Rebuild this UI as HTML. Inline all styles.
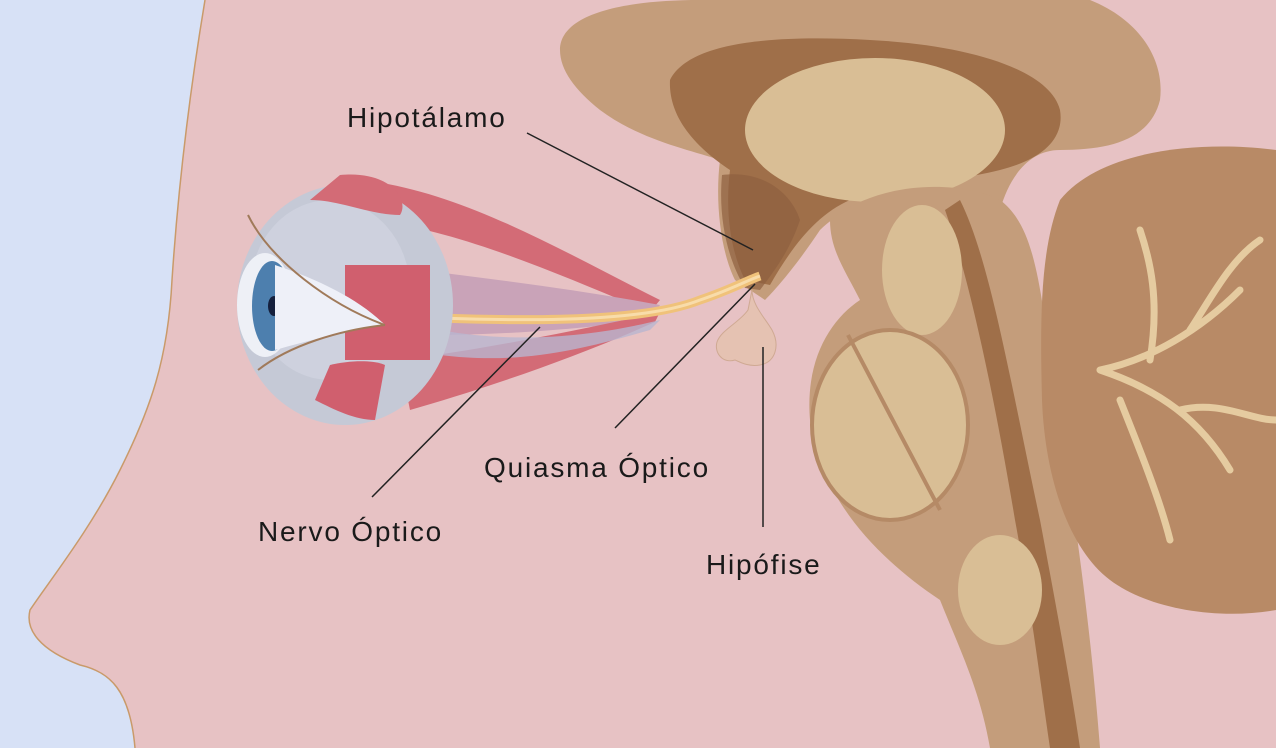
<!DOCTYPE html>
<html><head><meta charset="utf-8"><style>
html,body{margin:0;padding:0;width:1276px;height:748px;overflow:hidden;background:#e7c2c4}
svg{display:block}
text{font-family:"Liberation Sans",sans-serif;font-size:28px;letter-spacing:1.8px;fill:#1a1a1a}
</style></head><body>
<svg width="1276" height="748" viewBox="0 0 1276 748">
<rect width="1276" height="748" fill="#e7c2c4"/>
<path d="M0 0 H205 C190 90 178 190 172 280 C168 360 150 410 120 470 C90 530 50 580 30 610 C25 630 40 650 80 665 C110 672 130 690 135 748 H0 Z" fill="#d7e1f6"/>
<path d="M205 0 C190 90 178 190 172 280 C168 360 150 410 120 470 C90 530 50 580 30 610 C25 630 40 650 80 665 C110 672 130 690 135 748" fill="none" stroke="#c99a6a" stroke-width="1.5"/>
<path d="M560 50 C560 15 620 0 700 0 H1090 C1140 20 1165 60 1160 100 C1150 140 1110 150 1060 150 C1030 150 1010 175 1000 210 L960 210 C900 190 850 200 820 230 C800 260 780 285 765 300 L735 280 C720 250 715 200 720 160 C690 150 640 140 600 110 C575 90 560 70 560 50 Z" fill="#c49d7b"/>
<path d="M670 80 C690 40 780 35 870 40 C970 45 1050 70 1060 110 C1065 140 1040 160 1000 170 C960 180 900 185 850 200 C815 215 790 250 770 285 L745 280 C730 250 725 210 730 170 C700 150 668 120 670 80 Z" fill="#9f6f49"/>
<ellipse cx="875" cy="130" rx="130" ry="72" fill="#d9be95"/>
<path d="M722 175 C760 170 790 190 800 220 C790 250 775 270 760 290 L745 288 C728 260 718 220 722 175 Z" fill="#8f6040" opacity="0.7"/>
<path d="M830 220 C880 180 960 180 1000 200 C1040 230 1040 300 1060 420 C1075 520 1090 620 1100 748 H990 C980 690 960 650 940 600 C880 560 820 500 810 420 C805 360 830 320 860 300 C845 270 830 250 830 220 Z" fill="#c49d7b"/>
<path d="M960 200 C990 260 1010 380 1040 520 C1055 600 1070 680 1080 748 H1050 C1040 680 1030 600 1015 520 C995 400 970 280 945 210 Z" fill="#9f6f49"/>
<ellipse cx="922" cy="270" rx="40" ry="65" fill="#d9be95"/>
<ellipse cx="890" cy="425" rx="78" ry="95" fill="#d9be95" stroke="#b58a66" stroke-width="4"/>
<line x1="848" y1="335" x2="940" y2="510" stroke="#b58a66" stroke-width="4"/>
<ellipse cx="1000" cy="590" rx="42" ry="55" fill="#d9be95"/>
<path d="M1060 200 C1100 150 1200 140 1276 150 V610 C1220 620 1150 610 1110 580 C1070 550 1045 480 1042 400 C1040 320 1040 250 1060 200 Z" fill="#b88a66"/>
<path d="M1100 370 C1150 360 1200 330 1240 290 M1150 360 C1160 300 1150 260 1140 230 M1100 370 C1160 390 1200 420 1230 470 M1180 410 C1220 400 1250 420 1276 420 M1120 400 C1140 450 1160 500 1170 540 M1190 330 C1210 300 1230 260 1260 240" stroke="#e5cba0" stroke-width="7" fill="none" stroke-linecap="round"/>
<path d="M752 290 C752 305 765 318 772 330 C780 345 776 362 760 365 C748 367 740 362 735 360 C722 364 714 352 717 342 C721 330 740 322 748 310 Z" fill="#e5c2b2" stroke="#cfa993" stroke-width="1"/>
<path d="M360 180 C460 190 560 250 660 300 L650 312 C560 275 460 230 370 220 Z" fill="#d36b76"/>
<path d="M420 270 C500 280 580 290 660 305 L650 320 C570 330 500 335 430 335 Z" fill="#c9a3b8"/>
<path d="M400 360 C480 350 580 330 660 312 L655 322 C570 360 480 390 410 410 Z" fill="#d36b76"/>
<path d="M440 330 C520 345 600 335 660 320 L650 330 C580 350 520 365 440 355 Z" fill="#b9b5d0" opacity=".8"/>
<path d="M440 318 C550 322 650 320 700 300 C730 290 748 280 760 276" stroke="#f0c27a" stroke-width="9" fill="none"/>
<path d="M440 318 C550 322 650 320 700 300 C730 290 748 280 760 276" stroke="#f8dcaa" stroke-width="3" fill="none"/>
<ellipse cx="345" cy="305" rx="108" ry="120" fill="#c5c9d6"/>
<ellipse cx="330" cy="290" rx="80" ry="90" fill="#d4d7e2" opacity=".6"/>
<path d="M340 175 C390 170 410 200 400 215 C370 215 340 200 310 200 Z" fill="#d36b76"/>
<rect x="345" y="265" width="85" height="95" fill="#d05f6e"/>
<path d="M330 365 C350 360 375 360 385 365 L375 420 C355 420 335 410 315 400 Z" fill="#d05f6e"/>
<ellipse cx="265" cy="305" rx="28" ry="52" fill="#eef0f6"/>
<ellipse cx="272" cy="306" rx="20" ry="45" fill="#4d7fae"/>
<ellipse cx="274" cy="306" rx="6" ry="10" fill="#15203d"/>
<path d="M275 265 C320 280 360 300 385 325 C350 330 310 340 275 350 Z" fill="#eef0f8"/>
<path d="M248 215 C270 260 330 305 385 325" stroke="#a07a5a" stroke-width="2" fill="none"/>
<path d="M258 370 C290 345 340 330 385 325" stroke="#a07a5a" stroke-width="2" fill="none"/>
<g stroke="#222" stroke-width="1.5">
<line x1="527" y1="133" x2="753" y2="250"/>
<line x1="372" y1="497" x2="540" y2="327"/>
<line x1="615" y1="428" x2="755" y2="284"/>
<line x1="763" y1="527" x2="763" y2="347"/>
</g>
<text x="347" y="127">Hipotálamo</text>
<text x="484" y="477">Quiasma Óptico</text>
<text x="258" y="541">Nervo Óptico</text>
<text x="706" y="574">Hipófise</text>
</svg>
</body></html>
